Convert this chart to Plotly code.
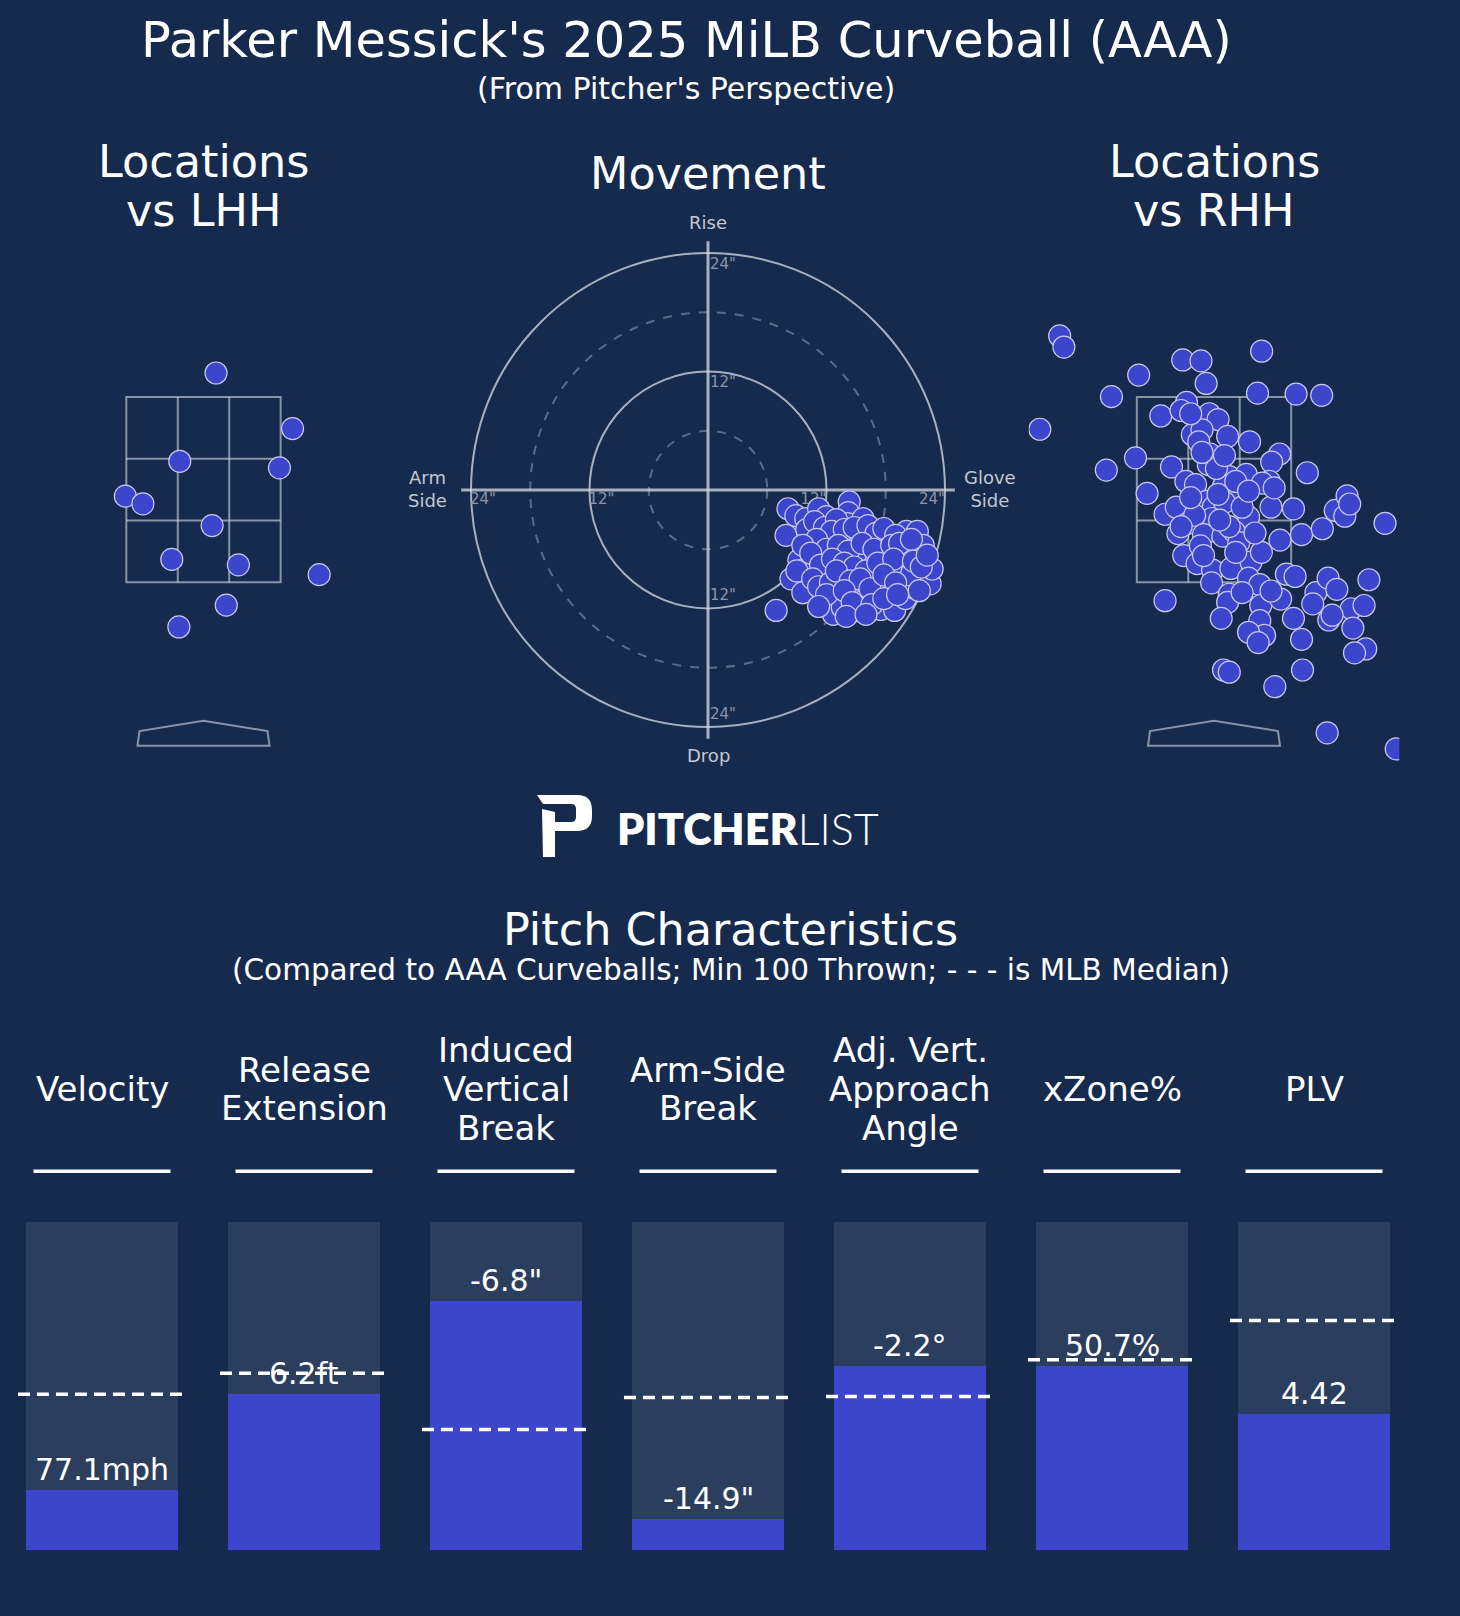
import plotly.graph_objects as go

W, H = 1460, 1616
BG = "#162a4e"
PANEL = "#2c3e5e"
BLUE = "#3c46cc"
EDGE = "#c6c8ee"
ZONE = "rgba(200,205,215,0.65)"
FONT = "DejaVu Sans"

# ---------------- data ----------------
# Locations vs LHH (plate_x ft, plate_z ft; pitcher's perspective)
lhh_x = [0.115, 0.817, -0.218, 0.697, -0.717, -0.556, 0.079, -0.291, 0.320, 1.061, 0.209, -0.226]
lhh_z = [3.42, 2.91, 2.61, 2.55, 2.29, 2.22, 2.02, 1.71, 1.66, 1.57, 1.29, 1.09]

# Locations vs RHH
rhh_x = [-1.416, -1.377, -0.691, -0.941, -1.598, -0.287, -0.119, -0.072, 0.437, 0.399,
         0.753, 0.988, -0.252, -0.488, -0.302, -0.043, 0.037, -0.199, -0.110, -0.140,
         0.125, 0.326, 0.602, 0.529, -0.037, -0.052, -0.720, -0.988, -0.390, -0.258,
         -0.169, 0.140, 0.087, 0.296, 0.228, 0.508, 0.443, 0.856, -0.614, -0.449,
         -0.346, -0.066, -0.007, 0.096, -0.243, -0.022, -0.178, 0.317, -0.331, -0.096,
         0.081, 0.184, 0.228, 0.523, 0.729, 0.605, 0.803, 0.994, 1.112, 1.200,
         1.221, 1.245, 1.569, -0.278, -0.155, -0.013, 0.155, 0.340, 0.435, -0.022,
         0.140, 0.125, 0.317, 0.420, -0.449, 0.066, 0.429, 0.420, 0.464, 0.317,
         0.405, 0.611, 0.664, 0.744, 0.729, 0.803, 0.935, 0.906, 1.047, 1.127,
         1.053, 1.259, 1.377, 1.421, 1.274, 1.392, 1.289, 0.087, 0.140, 0.812,
         0.558, 1.038, 1.672, 0.037, 0.140, 0.199, -0.125, -0.214, 0.022, 0.199,
         0.052, 0.258, 0.376, -0.096, -0.302, 0.096, -0.110, 0.258, 0.523, 1.083,
         -0.214, 0.317, 0.552]
rhh_z = [3.760, 3.658, 3.401, 3.203, 2.904, 3.540, 3.531, 3.324, 3.620, 3.235,
         3.227, 3.215, 3.150, 3.026, 3.076, 3.046, 2.993, 2.854, 2.898, 2.789,
         2.839, 2.789, 2.677, 2.603, 2.677, 2.579, 2.641, 2.529, 2.558, 2.425,
         2.396, 2.470, 2.381, 2.490, 2.322, 2.425, 2.410, 2.505, 2.316, 2.124,
         2.189, 2.242, 2.189, 2.233, 2.041, 2.085, 2.115, 2.100, 1.946, 1.937,
         1.923, 1.967, 1.863, 2.189, 2.174, 1.887, 1.937, 1.991, 2.159, 2.106,
         2.292, 2.218, 2.041, 1.745, 1.671, 1.612, 1.627, 1.686, 1.775, 1.494,
         1.390, 1.316, 1.538, 1.479, 1.331, 1.169, 1.287, 1.148, 1.012, 1.041,
         0.947, 1.346, 1.574, 1.553, 1.169, 0.976, 1.405, 1.302, 1.538, 1.435,
         1.154, 1.257, 1.287, 1.523, 1.080, 0.888, 0.852, 0.695, 0.675, 0.695,
         0.542, 0.119, -0.029, 2.307, 2.011, 1.775, 1.834, 2.277, 2.544, 2.425,
         2.070, 2.189, 1.952, 1.745, 2.011, 2.662, 2.691, 1.405, 1.420, 1.198,
         3.046, 2.337, 2.366]

# Movement (inches): horizontal break (+ = glove side), induced vertical break
mov_hb = [8.1, 8.9, 9.9, 11.2, 12.0, 14.3, 14.2, 14.1, 15.7, 7.9,
          10.0, 12.6, 15.0, 16.4, 18.2, 20.1, 21.2, 21.8, 19.9, 17.9,
          16.2, 15.0, 11.1, 9.2, 10.0, 8.4, 9.6, 11.9, 13.6, 15.2,
          13.4, 15.2, 12.7, 13.6, 17.5, 18.9, 20.0, 18.2, 19.6, 20.8,
          22.5, 22.7, 20.5, 6.9, 16.8, 15.9, 17.1, 18.5,
          10.8, 11.8, 13.0, 12.5, 13.8, 14.8, 16.2, 17.0, 17.8, 19.0,
          11.0, 12.0, 13.2, 14.2, 15.6, 16.8, 18.6, 19.4, 20.6, 9.6,
          10.4, 11.4, 12.6, 13.8, 14.8, 16.0, 17.2, 18.8, 20.8, 21.6,
          9.0, 10.6, 11.2, 12.4, 13.0, 14.4, 15.4, 16.4, 17.8, 19.0,
          12.0, 13.8, 14.6, 16.6, 17.8, 19.2, 11.2, 14.0, 16.0, 21.4, 22.2]
mov_ivb = [-1.9, -2.6, -2.9, -1.9, -2.7, -1.2, -2.3, -3.4, -2.9, -4.6,
           -4.0, -5.1, -4.6, -5.0, -5.0, -4.2, -4.2, -5.6, -6.6, -6.2,
           -7.3, -6.4, -7.0, -7.1, -7.9, -9.0, -10.4, -8.6, -8.6, -10.2,
           -10.8, -12.2, -12.6, -11.9, -12.1, -12.2, -11.0, -9.7, -9.0, -9.9,
           -9.5, -8.0, -8.6, -12.2, -9.0, -11.1, -10.1, -7.9,
           -3.2, -3.8, -3.0, -4.2, -4.0, -3.8, -3.6, -4.4, -3.9, -4.6,
           -5.0, -6.0, -5.6, -6.2, -5.4, -6.0, -5.6, -5.4, -5.0, -5.6,
           -6.4, -7.6, -7.0, -7.4, -7.8, -8.2, -7.4, -7.0, -7.2, -7.8,
           -8.2, -9.0, -9.8, -9.4, -8.2, -9.2, -9.0, -10.0, -8.6, -9.4,
           -10.6, -10.2, -11.4, -11.6, -11.0, -10.6, -11.8, -12.8, -12.6, -10.2, -6.6]

# Pitch characteristics
metric_titles = [["Velocity"], ["Release", "Extension"], ["Induced", "Vertical", "Break"],
                 ["Arm-Side", "Break"], ["Adj. Vert.", "Approach", "Angle"], ["xZone%"], ["PLV"]]
metric_values = ["77.1mph", "6.2ft", '-6.8"', '-14.9"', "-2.2°", "50.7%", "4.42"]
percentiles = [0.182, 0.475, 0.759, 0.096, 0.562, 0.562, 0.416]
medians = [0.475, 0.539, 0.367, 0.465, 0.468, 0.580, 0.700]

# movement tick labels
tick_left = [(0.2, 22.8, '24"'), (0.2, 10.8, '12"'), (0.2, -10.8, '12"'), (0.2, -22.8, '24"'),
             (-24.1, -1.0, '24"'), (-12.1, -1.0, '12"')]
tick_right = [(12.0, -1.0, '12"'), (24.0, -1.0, '24"')]


def px(x):
    return x / W


def py(y):
    return 1 - y / H


fig = go.Figure()

# ---------------- axes ----------------
loc_xr = [-1.7, 1.7]
loc_yr = [-0.25, 4.2]
ax_common = dict(visible=False, fixedrange=True)
fig.update_layout(
    xaxis=dict(domain=[px(18.2), px(388.8)], range=loc_xr, **ax_common),
    yaxis=dict(domain=[py(773), py(288)], range=loc_yr, **ax_common),
    xaxis2=dict(domain=[px(448), px(968)], range=[-26.33, 26.33], anchor="y2", **ax_common),
    yaxis2=dict(domain=[py(750), py(230)], range=[-26.33, 26.33], anchor="x2", **ax_common),
    xaxis3=dict(domain=[px(1028.7), px(1399.3)], range=loc_xr, anchor="y3", **ax_common),
    yaxis3=dict(domain=[py(773), py(288)], range=loc_yr, anchor="x3", **ax_common),
    xaxis4=dict(domain=[px(1), px(1415)], range=[-0.5, 6.5], anchor="y4", **ax_common),
    yaxis4=dict(domain=[py(1550), py(1156.4)], range=[0, 1.2], anchor="x4", **ax_common),
)

shapes = []
annotations = []


def zone_shapes(xr, yr):
    out = []
    zl, zr, zb, zt = -0.708, 0.708, 1.5, 3.2
    ln = dict(color=ZONE, width=2)
    out.append(dict(type="rect", xref=xr, yref=yr, x0=zl, x1=zr, y0=zb, y1=zt, line=ln, layer="below"))
    for xv in [zl + (zr - zl) / 3, zl + 2 * (zr - zl) / 3]:
        out.append(dict(type="line", xref=xr, yref=yr, x0=xv, x1=xv, y0=zb, y1=zt, line=ln, layer="below"))
    for yv in [zb + (zt - zb) / 3, zb + 2 * (zt - zb) / 3]:
        out.append(dict(type="line", xref=xr, yref=yr, x0=zl, x1=zr, y0=yv, y1=yv, line=ln, layer="below"))
    out.append(dict(type="path", xref=xr, yref=yr,
                    path="M -0.606 0.0 L -0.587 0.135 L 0 0.23 L 0.587 0.135 L 0.606 0.0 Z",
                    line=ln, layer="below"))
    return out


shapes += zone_shapes("x", "y")
shapes += zone_shapes("x3", "y3")

# movement rings
for r, solid in [(6, False), (12, True), (18, False), (24, True)]:
    shapes.append(dict(type="circle", xref="x2", yref="y2", x0=-r, x1=r, y0=-r, y1=r,
                       line=dict(color="rgba(205,210,220,0.8)" if solid else "rgba(140,150,170,0.6)",
                                 width=2, dash="solid" if solid else "dash"),
                       layer="below"))
shapes.append(dict(type="line", xref="x2", yref="y2", x0=-25, x1=25, y0=0, y1=0,
                   line=dict(color="rgba(205,210,220,0.8)", width=3), layer="below"))
shapes.append(dict(type="line", xref="x2", yref="y2", x0=0, x1=0, y0=-25.2, y1=25.2,
                   line=dict(color="rgba(205,210,220,0.8)", width=3), layer="below"))

# ---------------- traces ----------------
marker = dict(size=22, color=BLUE, line=dict(color=EDGE, width=1.2))
fig.add_trace(go.Scatter(x=lhh_x, y=lhh_z, mode="markers", marker=marker, xaxis="x", yaxis="y",
                         hoverinfo="skip", showlegend=False))
tick_font = dict(family=FONT, size=15, color="#8d95a8")
fig.add_trace(go.Scatter(x=[t[0] for t in tick_left], y=[t[1] for t in tick_left],
                         text=[t[2] for t in tick_left], mode="text", textposition="middle right",
                         textfont=tick_font, xaxis="x2", yaxis="y2", hoverinfo="skip", showlegend=False))
fig.add_trace(go.Scatter(x=[t[0] for t in tick_right], y=[t[1] for t in tick_right],
                         text=[t[2] for t in tick_right], mode="text", textposition="middle left",
                         textfont=tick_font, xaxis="x2", yaxis="y2", hoverinfo="skip", showlegend=False))
fig.add_trace(go.Scatter(x=mov_hb, y=mov_ivb, mode="markers", marker=marker, xaxis="x2", yaxis="y2",
                         hoverinfo="skip", showlegend=False))
fig.add_trace(go.Scatter(x=rhh_x, y=rhh_z, mode="markers", marker=marker, xaxis="x3", yaxis="y3",
                         hoverinfo="skip", showlegend=False))

idx = list(range(len(metric_values)))
fig.add_trace(go.Bar(x=idx, y=[1] * len(idx), width=0.752, marker=dict(color=PANEL, line=dict(width=0)),
                     xaxis="x4", yaxis="y4", hoverinfo="skip", showlegend=False))
fig.add_trace(go.Bar(x=idx, y=percentiles, width=0.752, marker=dict(color=BLUE, line=dict(width=0)),
                     xaxis="x4", yaxis="y4", hoverinfo="skip", showlegend=False))

for i in idx:
    shapes.append(dict(type="line", xref="x4", yref="y4", x0=i - 0.416, x1=i + 0.416,
                       y0=medians[i], y1=medians[i],
                       line=dict(color="white", width=3.5, dash="12px,7px")))
    shapes.append(dict(type="line", xref="x4", yref="y4", x0=i - 0.339, x1=i + 0.339,
                       y0=1.155, y1=1.155, line=dict(color="white", width=3.5)))
    annotations.append(dict(x=i, y=percentiles[i] + 0.062, xref="x4", yref="y4",
                            text=metric_values[i], showarrow=False, yanchor="middle",
                            font=dict(family=FONT, size=30, color="white")))
    lines = metric_titles[i]
    ys = {1: [1089], 2: [1070, 1108], 3: [1050, 1089, 1128]}[len(lines)]
    for t, yy in zip(lines, ys):
        annotations.append(dict(x=i, y=py(yy), xref="x4", yref="paper", text=t, showarrow=False,
                                yanchor="middle", font=dict(family=FONT, size=34, color="white")))


def text(x, y, t, size, color="white", xanchor="center", family=FONT):
    annotations.append(dict(x=px(x), y=py(y), xref="paper", yref="paper", text=t, showarrow=False,
                            xanchor=xanchor, yanchor="middle", align="center",
                            font=dict(family=family, size=size, color=color)))


text(686, 40, "Parker Messick's 2025 MiLB Curveball (AAA)", 49.5)
text(686, 88, "(From Pitcher's Perspective)", 30)
text(203.5, 162, "Locations", 44.5)
text(203.5, 211, "vs LHH", 44.5)
text(708, 174, "Movement", 44.5)
text(1214, 162, "Locations", 44.5)
text(1214, 211, "vs RHH", 44.5)
text(730.5, 930, "Pitch Characteristics", 44.5)
text(730.5, 970, "(Compared to AAA Curveballs; Min 100 Thrown; - - - is MLB Median)", 29.5)

lab = "#c3c7d2"
text(708, 222, "Rise", 18, color=lab)
text(708, 755, "Drop", 18, color=lab)
text(427, 489, "Arm<br>Side", 18, color=lab)
text(990, 489, "Glove<br>Side", 18, color=lab)

# logo
text(615, 828, '<span style="font-weight:800">PITCHER</span><span style="font-weight:300">LIST</span>',
     43, xanchor="left", family="Lato")


def logo_path(pts):
    out = []
    for cmd, coords in pts:
        s = cmd
        for (dx, dy) in coords:
            s += " %.5f %.5f" % (px(537 + dx), py(795 + dy))
        out.append(s)
    return " ".join(out) + " Z"


bowl = [("M", [(0, 0)]), ("L", [(40, 0)]), ("Q", [(55, 0), (55, 15)]), ("L", [(55, 21)]),
        ("Q", [(55, 36), (40, 36)]), ("L", [(18, 36)]), ("L", [(18, 27)]), ("L", [(34, 27)]),
        ("Q", [(39, 27), (39, 22)]), ("L", [(39, 14)]), ("Q", [(39, 9), (34, 9)]), ("L", [(6, 9)])]
stem = [("M", [(5, 14)]), ("L", [(18, 17)]), ("L", [(18, 62)]), ("L", [(6, 62)])]
for p in (bowl, stem):
    shapes.append(dict(type="path", xref="paper", yref="paper", path=logo_path(p),
                       fillcolor="white", line=dict(width=0)))

fig.update_layout(
    width=W, height=H, margin=dict(l=0, r=0, t=0, b=0),
    paper_bgcolor=BG, plot_bgcolor=BG, barmode="overlay", bargap=0,
    shapes=shapes, annotations=annotations, showlegend=False,
    font=dict(family=FONT, color="white"),
)

fig.write_html("out.html", config={"displayModeBar": False, "staticPlot": True},
               post_script="document.body.style.margin='0';document.body.style.overflow='hidden';"
                           "document.body.style.background='%s';" % BG)
